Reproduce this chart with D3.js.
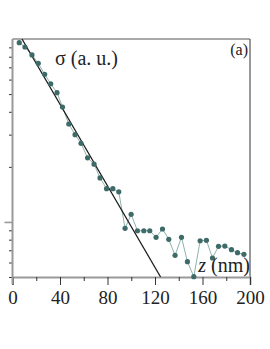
<!DOCTYPE html>
<html>
<head>
<meta charset="utf-8">
<script src="https://cdn.jsdelivr.net/npm/d3@7"></script>
<style>
  body { margin: 0; background: #fff; }
  svg text { font-family: "Liberation Serif", "Times New Roman", Times, "DejaVu Serif", serif; fill: #222; }
</style>
</head>
<body>
<div id="chart"></div>
<script>
// measured profile, z in nm, sigma in arbitrary units
const zValues = [5.7, 10.5, 16.4, 21.7, 27.1, 32.2, 37.5, 42.1, 47.4, 52.7, 57.7, 63.2,
  68.7, 73.7, 79.2, 84.5, 89.5, 94.8, 99.9, 105.2, 110.6, 115.6, 120.9, 126.3, 131.6,
  136.9, 142.3, 147.3, 152.7, 158.0, 163.3, 168.4, 173.5, 178.8, 184.4, 189.5, 194.9]
const sigmaValues = [9.55, 9.04, 8.18, 7.36, 6.41, 5.69, 5.09, 4.25, 3.43, 3.0, 2.69, 2.24,
  2.07, 1.74, 1.52, 1.52, 1.46, 0.923, 1.1, 0.895, 0.895, 0.895, 0.824, 0.915, 0.803,
  0.657, 0.824, 0.606, 0.502, 0.789, 0.793, 0.635, 0.736, 0.738, 0.705, 0.679, 0.665]

// exponential fit (straight on the log axis)
const fitZ = [8.0, 124.7]
const fitSigma = [10, 0.5]

const xTickLabels = [0, 40, 80, 120, 160, 200]
const xMinorTicks = [20, 60, 100, 140, 180]
const yMinorTicks = [0.5, 0.6, 0.7, 0.8, 0.9, 2, 3, 4, 5, 6, 7, 8, 9]
const yMajorTicks = [1]

const width = 270, height = 349
const mLeft = 12.5, mRight = 250, mTop = 39, mBottom = 277
const serif = '"Liberation Serif", "Times New Roman", Times, serif'

const svg = d3.select('#chart')
  .append('svg')
  .attr('width', width)
  .attr('height', height)

const x = d3.scaleLinear().domain([0, 200]).range([mLeft, mRight])
const y = d3.scaleLog().domain([0.5, 10]).range([mBottom, mTop])

// frame: top and right
svg.append('line')
  .attr('x1', mLeft).attr('x2', mRight).attr('y1', mTop).attr('y2', mTop)
  .attr('stroke', '#555').attr('stroke-width', 1.2)
svg.append('line')
  .attr('x1', mRight).attr('x2', mRight).attr('y1', mTop).attr('y2', mBottom)
  .attr('stroke', '#555').attr('stroke-width', 1.2)

// bottom axis
const xAxis = svg.append('g')
  .attr('transform', `translate(0,${mBottom})`)
  .call(d3.axisBottom(x).tickValues(xTickLabels).tickSize(8).tickPadding(6))
xAxis.attr('font-family', serif).attr('font-size', 19)
xAxis.select('.domain').attr('stroke', '#999').attr('stroke-width', 1.8)
xAxis.selectAll('.tick line').attr('stroke', '#333')
xAxis.selectAll('.tick text').attr('fill', '#222')

const xMinor = svg.append('g')
  .attr('transform', `translate(0,${mBottom})`)
  .call(d3.axisBottom(x).tickValues(xMinorTicks).tickSize(4).tickFormat(''))
xMinor.select('.domain').remove()
xMinor.selectAll('.tick line').attr('stroke', '#333')

// left axis
const yAxis = svg.append('g')
  .attr('transform', `translate(${mLeft},0)`)
  .call(d3.axisLeft(y).tickValues(yMinorTicks).tickSize(3.5).tickFormat(''))
yAxis.select('.domain').remove()
yAxis.selectAll('.tick line').attr('stroke', '#333')

const yMajor = svg.append('g')
  .attr('transform', `translate(${mLeft},0)`)
  .call(d3.axisLeft(y).tickValues(yMajorTicks).tickSize(8).tickFormat(''))
yMajor.select('.domain').remove()
yMajor.selectAll('.tick line').attr('stroke', '#999').attr('stroke-width', 1.6)

svg.append('line')
  .attr('x1', mLeft).attr('x2', mLeft).attr('y1', mTop).attr('y2', mBottom + 7)
  .attr('stroke', '#999').attr('stroke-width', 2)

// data
const pts = zValues.map((z, i) => ({ z: z, s: sigmaValues[i] }))

svg.append('path')
  .datum(pts)
  .attr('fill', 'none')
  .attr('stroke', '#8fb3ae')
  .attr('stroke-width', 1)
  .attr('d', d3.line().x(d => x(d.z)).y(d => y(d.s)))

const fit = fitZ.map((z, i) => ({ z: z, s: fitSigma[i] }))
svg.append('path')
  .datum(fit)
  .attr('fill', 'none')
  .attr('stroke', '#1a1a1a')
  .attr('stroke-width', 1.3)
  .attr('d', d3.line().x(d => x(d.z)).y(d => y(d.s)))

svg.selectAll('circle')
  .data(pts)
  .enter()
  .append('circle')
  .attr('cx', d => x(d.z))
  .attr('cy', d => y(d.s))
  .attr('r', 2.6)
  .attr('fill', '#3e6b68')

// labels
svg.append('text')
  .attr('x', 55).attr('y', 65)
  .attr('font-family', serif)
  .attr('font-size', 20)
  .text('σ (a. u.)')

svg.append('text')
  .attr('x', 248).attr('y', 55)
  .attr('text-anchor', 'end')
  .attr('font-family', serif)
  .attr('font-size', 16)
  .text('(a)')

const zl = svg.append('text')
  .attr('x', 250).attr('y', 272)
  .attr('text-anchor', 'end')
  .attr('font-family', serif)
  .attr('font-size', 20)
zl.append('tspan').attr('font-style', 'italic').text('z')
zl.append('tspan').text(' (nm)')
</script>
</body>
</html>
